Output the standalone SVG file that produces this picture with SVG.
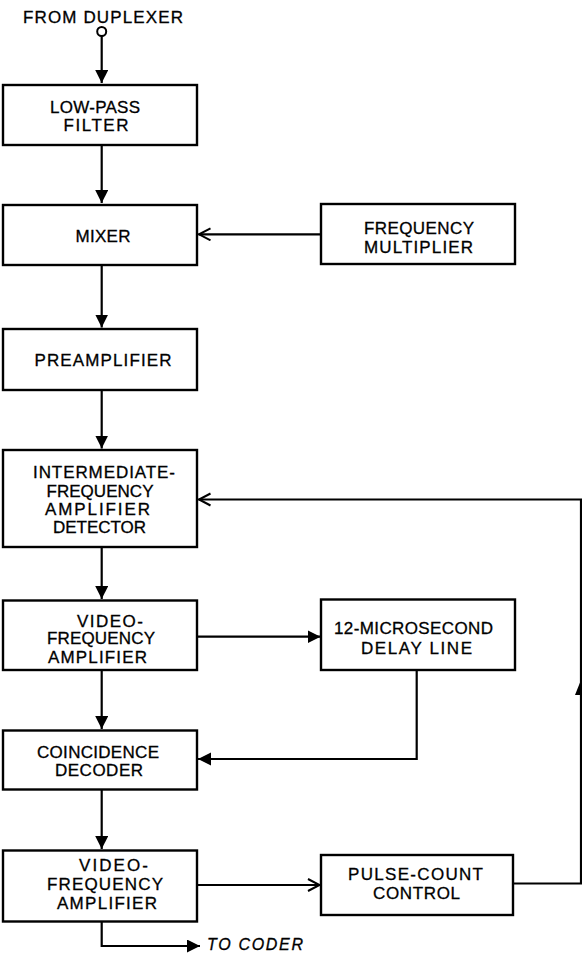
<svg xmlns="http://www.w3.org/2000/svg" width="582" height="953" viewBox="0 0 582 953">
<style>
  .box { fill: #fff; stroke: #000; stroke-width: 2.4; }
  .lbl { font-family: "Liberation Sans", Arial, sans-serif; font-size: 17px; fill: #000; stroke: #000; stroke-width: 0.3; text-anchor: middle; }
  .wire { fill: none; stroke: #000; stroke-width: 2.2; }
</style>
<defs>
  <marker id="arrow" markerUnits="userSpaceOnUse" markerWidth="14" markerHeight="14" refX="13" refY="6.5" orient="auto">
    <path d="M0,0 L13,6.5 L0,13 z" fill="#000"/>
  </marker>
  <marker id="chev" markerUnits="userSpaceOnUse" markerWidth="16" markerHeight="16" refX="13" refY="7" orient="auto">
    <path d="M1,1 L12.5,7 L1,13" fill="none" stroke="#000" stroke-width="2"/>
  </marker>
</defs>
<rect width="582" height="953" fill="#fff"/>

<g id="source">
  <text class="lbl" x="103" y="22.5" textLength="160" lengthAdjust="spacing">FROM  DUPLEXER</text>
  <circle cx="101.7" cy="31.5" r="4.5" fill="#fff" stroke="#000" stroke-width="2"/>
</g>

<g id="low-pass-filter">
  <rect class="box" x="3" y="85" width="194" height="60"/>
  <text class="lbl" x="95" y="112.8" textLength="90" lengthAdjust="spacing">LOW-PASS</text>
  <text class="lbl" x="96" y="131.3" textLength="65" lengthAdjust="spacing">FILTER</text>
</g>

<g id="mixer">
  <rect class="box" x="3" y="205" width="194" height="60"/>
  <text class="lbl" x="103" y="241.8" textLength="55" lengthAdjust="spacing">MIXER</text>
</g>

<g id="frequency-multiplier">
  <rect class="box" x="321" y="204" width="194" height="60"/>
  <text class="lbl" x="419" y="234.3" textLength="110" lengthAdjust="spacing">FREQUENCY</text>
  <text class="lbl" x="418.5" y="252.8" textLength="109" lengthAdjust="spacing">MULTIPLIER</text>
</g>

<g id="preamplifier">
  <rect class="box" x="3" y="329" width="194" height="61"/>
  <text class="lbl" x="103" y="366.3" textLength="137" lengthAdjust="spacing">PREAMPLIFIER</text>
</g>

<g id="if-amplifier-detector">
  <rect class="box" x="3" y="450" width="194" height="97"/>
  <text class="lbl" x="104" y="477.8" textLength="142" lengthAdjust="spacing">INTERMEDIATE-</text>
  <text class="lbl" x="100" y="496.8" textLength="107" lengthAdjust="spacing">FREQUENCY</text>
  <text class="lbl" x="97.5" y="515.3" textLength="105" lengthAdjust="spacing">AMPLIFIER</text>
  <text class="lbl" x="99.5" y="532.8" textLength="93" lengthAdjust="spacing">DETECTOR</text>
</g>

<g id="video-amplifier-1">
  <rect class="box" x="3" y="600.5" width="194" height="69.5"/>
  <text class="lbl" x="110" y="626.8" textLength="66" lengthAdjust="spacing">VIDEO-</text>
  <text class="lbl" x="101" y="644.3" textLength="108" lengthAdjust="spacing">FREQUENCY</text>
  <text class="lbl" x="97.5" y="662.8" textLength="99" lengthAdjust="spacing">AMPLIFIER</text>
</g>

<g id="delay-line">
  <rect class="box" x="321" y="599.5" width="194" height="70.5"/>
  <text class="lbl" x="413.5" y="634.3" textLength="159" lengthAdjust="spacing">12-MICROSECOND</text>
  <text class="lbl" x="416.5" y="654.3" textLength="111" lengthAdjust="spacing">DELAY LINE</text>
</g>

<g id="coincidence-decoder">
  <rect class="box" x="3" y="730.5" width="194" height="59"/>
  <text class="lbl" x="98" y="757.8" textLength="122" lengthAdjust="spacing">COINCIDENCE</text>
  <text class="lbl" x="99" y="776.3" textLength="88" lengthAdjust="spacing">DECODER</text>
</g>

<g id="video-amplifier-2">
  <rect class="box" x="3" y="850.5" width="194" height="71"/>
  <text class="lbl" x="113.5" y="871.3" textLength="69" lengthAdjust="spacing">VIDEO-</text>
  <text class="lbl" x="105" y="890.3" textLength="116" lengthAdjust="spacing">FREQUENCY</text>
  <text class="lbl" x="107" y="908.8" textLength="100" lengthAdjust="spacing">AMPLIFIER</text>
</g>

<g id="pulse-count-control">
  <rect class="box" x="321" y="855" width="192" height="60"/>
  <text class="lbl" x="415.5" y="880.3" textLength="135" lengthAdjust="spacing">PULSE-COUNT</text>
  <text class="lbl" x="416.5" y="899.3" textLength="87" lengthAdjust="spacing">CONTROL</text>
</g>

<g id="to-coder">
  <text class="lbl" x="207" y="949.5" textLength="96" lengthAdjust="spacing" style="text-anchor:start;font-style:italic;font-size:16px">TO CODER</text>
</g>

<g id="connectors">
  <line class="wire" x1="101.7" y1="36" x2="101.7" y2="83" marker-end="url(#arrow)"/>
  <line class="wire" x1="101.7" y1="145" x2="101.7" y2="203" marker-end="url(#arrow)"/>
  <line class="wire" x1="321" y1="234.3" x2="198.5" y2="234.3" marker-end="url(#chev)"/>
  <line class="wire" x1="101.7" y1="265" x2="101.7" y2="327.5" marker-end="url(#arrow)"/>
  <line class="wire" x1="101.7" y1="390" x2="101.7" y2="448.5" marker-end="url(#arrow)"/>
  <polyline class="wire" points="581,884 581,499.5 198.5,499.5" marker-end="url(#chev)"/>
  <polygon points="581,680 575,695 587,695" fill="#000"/>
  <line class="wire" x1="101.7" y1="547" x2="101.7" y2="599" marker-end="url(#arrow)"/>
  <line class="wire" x1="197" y1="636.7" x2="320.5" y2="636.7" marker-end="url(#arrow)"/>
  <polyline class="wire" points="416.7,670 416.7,759 198,759" marker-end="url(#arrow)"/>
  <line class="wire" x1="101.7" y1="670" x2="101.7" y2="729" marker-end="url(#arrow)"/>
  <line class="wire" x1="101.7" y1="789.5" x2="101.7" y2="849" marker-end="url(#arrow)"/>
  <line class="wire" x1="197" y1="885" x2="320" y2="885" marker-end="url(#chev)"/>
  <line class="wire" x1="513" y1="883.5" x2="582" y2="883.5"/>
  <polyline class="wire" points="101.7,921.5 101.7,946 200,946" marker-end="url(#arrow)"/>
</g>
</svg>
